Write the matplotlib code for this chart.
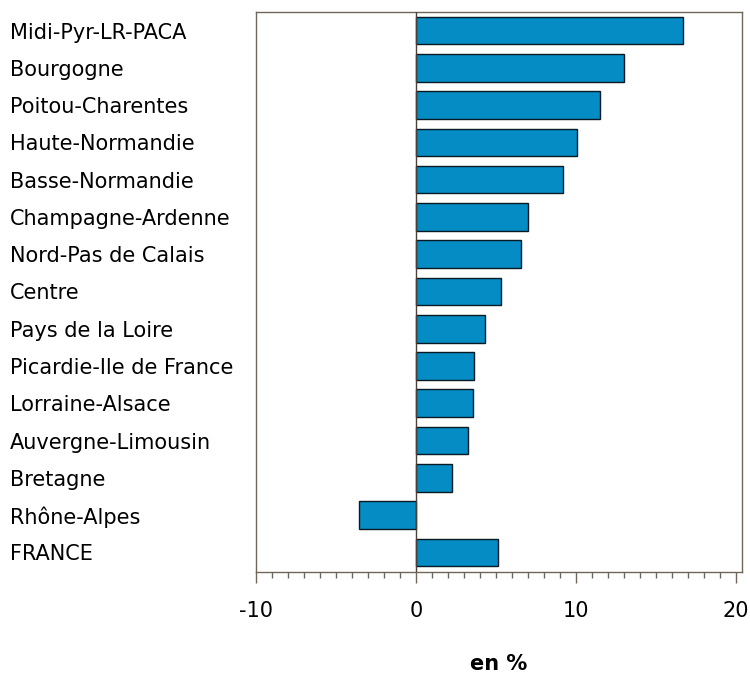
import matplotlib
matplotlib.use("Agg")
import matplotlib.pyplot as plt
from matplotlib.ticker import MultipleLocator

plt.rcParams['font.family'] = ['DejaVu Sans']
plt.rcParams['axes.unicode_minus'] = False

regions = [
    "Midi-Pyr-LR-PACA", "Bourgogne", "Poitou-Charentes", "Haute-Normandie",
    "Basse-Normandie", "Champagne-Ardenne", "Nord-Pas de Calais", "Centre",
    "Pays de la Loire", "Picardie-Ile de France", "Lorraine-Alsace",
    "Auvergne-Limousin", "Bretagne", "Rhône-Alpes", "FRANCE",
]
values = [16.7, 13.0, 11.5, 10.1, 9.2, 7.0, 6.55, 5.35, 4.35, 3.65, 3.6,
          3.25, 2.25, -3.55, 5.15]

frame_col = '#6e6759'

fig = plt.figure(figsize=(7.5, 6.73), dpi=100)
ax = fig.add_axes([0.3413, 0.1505, 0.648, 0.8317])

ypos = list(range(len(regions)))
ax.barh(ypos, values, height=0.74, color='#058cc5', edgecolor='#0a1a24',
        linewidth=1.0, zorder=2)
ax.axvline(0, color='#4a4238', lw=1.0, zorder=3)

ax.set_ylim(len(regions) - 0.48, -0.5)
ax.set_xlim(-10, 20.4)

ax.set_yticks(ypos)
ax.set_yticklabels(regions, fontsize=15, ha='left')
ax.tick_params(axis='y', length=0, pad=177)

ax.xaxis.set_major_locator(MultipleLocator(10))
ax.xaxis.set_minor_locator(MultipleLocator(1))
ax.tick_params(axis='x', which='major', length=8, width=1, color=frame_col,
               labelsize=15, pad=13)
ax.tick_params(axis='x', which='minor', length=4, width=1, color=frame_col)

for s in ax.spines.values():
    s.set_color(frame_col)
    s.set_linewidth(1.0)

ax.set_xlabel("en %", fontsize=15, fontweight='bold', labelpad=24)

fig.savefig("out.png", dpi=100)
